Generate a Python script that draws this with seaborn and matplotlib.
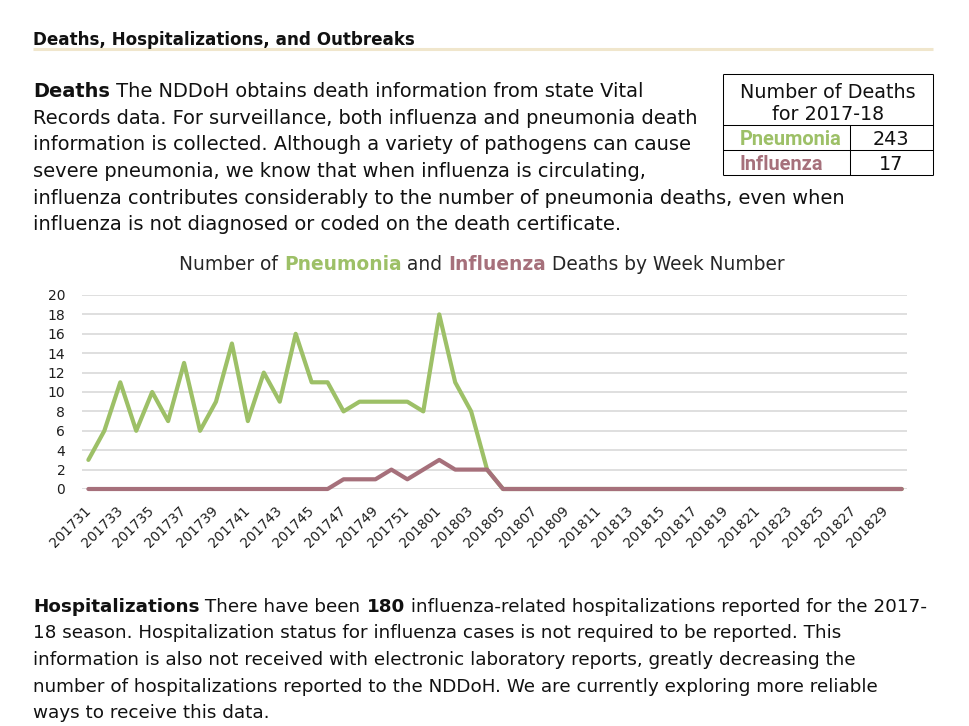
import matplotlib
matplotlib.use("Agg")
import matplotlib.pyplot as plt
import seaborn as sns
import pandas as pd
from matplotlib.lines import Line2D

# ---------------- data ----------------
weeks = ["201731", "201732", "201733", "201734", "201735", "201736", "201737", "201738",
         "201739", "201740", "201741", "201742", "201743", "201744", "201745", "201746",
         "201747", "201748", "201749", "201750", "201751", "201752",
         "201801", "201802", "201803", "201804", "201805", "201806", "201807", "201808",
         "201809", "201810", "201811", "201812", "201813", "201814", "201815", "201816",
         "201817", "201818", "201819", "201820", "201821", "201822", "201823", "201824",
         "201825", "201826", "201827", "201828", "201829", "201830"]
pneumonia = [3, 6, 11, 6, 10, 7, 13, 6, 9, 15, 7, 12, 9, 16, 11, 11, 8, 9, 9, 9, 9, 8,
             18, 11, 8, 2, 0, 0, 0, 0, 0, 0, 0, 0, 0, 0, 0, 0, 0, 0, 0, 0, 0, 0, 0, 0,
             0, 0, 0, 0, 0, 0]
influenza = [0, 0, 0, 0, 0, 0, 0, 0, 0, 0, 0, 0, 0, 0, 0, 0, 1, 1, 1, 2, 1, 2,
             3, 2, 2, 2, 0, 0, 0, 0, 0, 0, 0, 0, 0, 0, 0, 0, 0, 0, 0, 0, 0, 0, 0, 0,
             0, 0, 0, 0, 0, 0]
series_names = ["Pneumonia", "Influenza"]
table_totals = ["243", "17"]
y_ticks = [0, 2, 4, 6, 8, 10, 12, 14, 16, 18, 20]

GREEN = "#9DC067"
MAUVE = "#A6707B"
TEXT = "#111111"

W, H = 970, 726
sns.set_theme(style="white")
plt.rcParams["font.family"] = ["DejaVu Sans"]

fig = plt.figure(figsize=(W / 100, H / 100), dpi=100)
renderer = fig.canvas.get_renderer()


def fx(x):
    return x / W


def fy(y):
    return 1 - y / H


_bar_cache = {}


def run_width(s, size, weight, family="DejaVu Sans"):
    key = (size, weight, family)
    if key not in _bar_cache:
        t = fig.text(0, 0, "||", fontsize=size, fontweight=weight, family=family)
        _bar_cache[key] = t.get_window_extent(renderer).width
        t.remove()
    t = fig.text(0, 0, "|" + s + "|", fontsize=size, fontweight=weight, family=family)
    w = t.get_window_extent(renderer).width
    t.remove()
    return w - _bar_cache[key]


def runs_width(runs, size, family="DejaVu Sans"):
    return sum(run_width(r[0], size, r[1], family) for r in runs)


def fit_size(runs, target, family="DejaVu Sans"):
    return 10.0 * target / runs_width(runs, 10.0, family)


def draw_runs(x, y, runs, size, center=False, family="DejaVu Sans"):
    if center:
        x = x - runs_width(runs, size, family) / 2
    for r in runs:
        s, weight = r[0], r[1]
        color = r[2] if len(r) > 2 else TEXT
        fig.text(fx(x), fy(y), s, fontsize=size, fontweight=weight, color=color,
                 ha="left", va="baseline", family=family)
        x += run_width(s, size, weight, family)


def hline(x0, x1, y, color="black", lw=0.75):
    fig.add_artist(Line2D([fx(x0), fx(x1)], [fy(y), fy(y)], color=color, lw=lw,
                          transform=fig.transFigure, solid_capstyle="butt"))


def vline(x, y0, y1, color="black", lw=0.75):
    fig.add_artist(Line2D([fx(x), fx(x)], [fy(y0), fy(y1)], color=color, lw=lw,
                          transform=fig.transFigure, solid_capstyle="butt"))


# ---------------- heading ----------------
heading = [("Deaths, Hospitalizations, and Outbreaks", "bold")]
hs = fit_size(heading, 382)
draw_runs(33, 45, heading, hs)
hline(33, 933, 49.3, color="#F0E6CC", lw=2.2)

# ---------------- paragraph 1 ----------------
p1 = [
    [("Deaths", "bold"), (" The NDDoH obtains death information from state Vital", "normal")],
    [("Records data. For surveillance, both influenza and pneumonia death", "normal")],
    [("information is collected. Although a variety of pathogens can cause", "normal")],
    [("severe pneumonia, we know that when influenza is circulating,", "normal")],
    [("influenza contributes considerably to the number of pneumonia deaths, even when", "normal")],
    [("influenza is not diagnosed or coded on the death certificate.", "normal")],
]
ps = fit_size(p1[4], 809)
for i, line in enumerate(p1):
    draw_runs(33, 97.3 + i * 26.6, line, ps)

# ---------------- table ----------------
ts = fit_size([("Number of Deaths", "normal")], 175)
bs = fit_size([(series_names[0], "bold")], 102, family="Roboto")
draw_runs(828, 98.3, [("Number of Deaths", "normal")], ts, center=True)
draw_runs(828, 120.5, [("for 2017-18", "normal")], ts, center=True)
draw_runs(740, 145, [(series_names[0], "bold", GREEN)], bs, family="Roboto")
draw_runs(891, 145, [(table_totals[0], "normal")], ts, center=True)
draw_runs(740, 170.5, [(series_names[1], "bold", MAUVE)], bs, family="Roboto")
draw_runs(891, 170.5, [(table_totals[1], "normal")], ts, center=True)
hline(723, 933, 74.3)
hline(723, 933, 124.7)
hline(723, 933, 149.7)
hline(723, 933, 175.3)
vline(723.3, 74.3, 175.3)
vline(932.8, 74.3, 175.3)
vline(850.3, 124.7, 175.3)

# ---------------- chart title ----------------
title_runs = [("Number of ", "normal", "#262626"), ("Pneumonia", "bold", GREEN),
              (" and ", "normal", "#262626"), ("Influenza", "bold", MAUVE),
              (" Deaths by Week Number", "normal", "#262626")]
tsz = fit_size(title_runs, 606)
draw_runs(482, 270, title_runs, tsz, center=True)

# ---------------- chart ----------------
ax = fig.add_axes([82 / W, (H - 489) / H, 825 / W, 194 / H])
df = pd.DataFrame({
    "pos": list(range(len(weeks))) * 2,
    "deaths": pneumonia + influenza,
    "series": [series_names[0]] * len(weeks) + [series_names[1]] * len(weeks),
})
sns.lineplot(data=df, x="pos", y="deaths", hue="series", hue_order=series_names,
             palette={series_names[0]: GREEN, series_names[1]: MAUVE},
             linewidth=3.0, legend=False, ax=ax)
for ln in ax.get_lines():
    ln.set_clip_on(False)
    ln.set_solid_joinstyle("round")
    ln.set_solid_capstyle("round")
    ln.set_zorder(3)

ax.set_xlim(-0.4, 51.33)
ax.set_ylim(0, 20)
ax.set_yticks(y_ticks)
ax.set_yticklabels([str(v) for v in y_ticks])
ax.set_xticks(range(0, len(weeks), 2))
ax.set_xticklabels(weeks[::2])
ax.yaxis.grid(True, color="#D9D9D9", lw=1.2)
ax.xaxis.grid(False)
ax.set_axisbelow(True)
for sp in ax.spines.values():
    sp.set_visible(False)
ax.set_xlabel("")
ax.set_ylabel("")
ax.tick_params(axis="y", length=0, pad=12, labelsize=10, labelcolor="#1f1f1f")
ax.tick_params(axis="x", length=0, pad=14, labelsize=9.8, labelcolor="#1f1f1f")
plt.setp(ax.get_xticklabels(), rotation=45, ha="right", va="center",
         rotation_mode="anchor")
ax.set_facecolor("white")

# ---------------- paragraph 2 ----------------
p2 = [
    [("Hospitalizations", "bold"), (" There have been ", "normal"), ("180", "bold"),
     (" influenza-related hospitalizations reported for the 2017-", "normal")],
    [("18 season. Hospitalization status for influenza cases is not required to be reported. This", "normal")],
    [("information is also not received with electronic laboratory reports, greatly decreasing the", "normal")],
    [("number of hospitalizations reported to the NDDoH. We are currently exploring more reliable", "normal")],
    [("ways to receive this data.", "normal")],
]
p2s = fit_size(p2[0], 894)
for i, line in enumerate(p2):
    draw_runs(33, 611.7 + i * 26.65, line, p2s)

fig.savefig("out.png", dpi=100, facecolor="white")
